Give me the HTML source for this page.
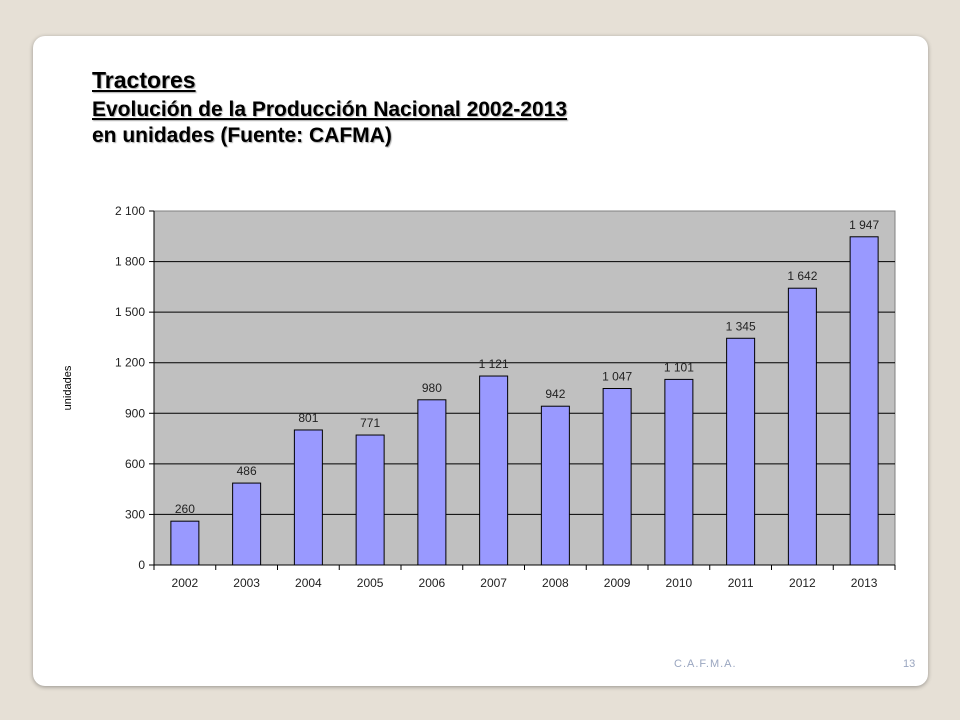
<!DOCTYPE html>
<html><head><meta charset="utf-8"><style>
body{margin:0;width:960px;height:720px;background:#e6e0d6;font-family:"Liberation Sans",sans-serif;position:relative;overflow:hidden}
.card{position:absolute;left:33px;top:36px;width:895px;height:650px;background:#fff;border-radius:12px;box-shadow:0 1px 4px rgba(0,0,0,0.35)}
.t{position:absolute;left:92px;font-weight:bold;text-shadow:1px 1px 1px #aaa;white-space:nowrap;line-height:1}
</style></head><body>
<div class="t" style="top:68px"></div>
<div class="card"></div>
<div class="t" style="top:69px;font-size:23px;text-decoration:underline">Tractores</div>
<div class="t" style="top:99px;font-size:21px;text-decoration:underline">Evolución de la Producción Nacional 2002-2013</div>
<div class="t" style="top:125px;font-size:21px">en unidades (Fuente: CAFMA)</div>
<div style="position:absolute;left:674px;top:658px;font-size:11px;color:#9aa6c0;letter-spacing:1px">C.A.F.M.A.</div>
<div style="position:absolute;left:903px;top:658px;font-size:11px;color:#9aa6c0">13</div>
<svg id="chart" width="960" height="720" style="position:absolute;left:0;top:0"></svg>
<script>
const categories=["2002","2003","2004","2005","2006","2007","2008","2009","2010","2011","2012","2013"];
const values=[260,486,801,771,980,1121,942,1047,1101,1345,1642,1947];
const labels=["260","486","801","771","980","1 121","942","1 047","1 101","1 345","1 642","1 947"];
const ticks=[0,300,600,900,1200,1500,1800,2100];
const tickLabels=["0","300","600","900","1 200","1 500","1 800","2 100"];
const L=154,R=895,T=211,B=565,MAX=2100;
const y=v=>B-(v/MAX)*(B-T);
const step=(R-L)/categories.length;
const x=i=>L+step*i+step/2;
const svg=document.getElementById('chart');
const NS='http://www.w3.org/2000/svg';
function mk(tag,a){const e=document.createElementNS(NS,tag);for(const k in a)e.setAttribute(k,a[k]);svg.appendChild(e);return e;}
let e=mk('rect',{x:L,y:T,width:R-L,height:B-T,fill:'#c0c0c0',stroke:'#808080'});


ticks.forEach((t,i)=>{
 if(t>0&&t<MAX){const g=mk('line',{x1:L,x2:R,y1:y(t),y2:y(t),stroke:'#000','stroke-width':1});
 
 }
 const tk=mk('line',{x1:L-5,x2:L,y1:y(t),y2:y(t),stroke:'#000'});
 
 
 const tx=mk('text',{x:L-9,y:y(t)+4,'text-anchor':'end','font-size':12,'font-family':'Liberation Sans',fill:'#222'});
 tx.textContent=tickLabels[i];
 
 
});
mk('line',{x1:L,x2:L,y1:T,y2:B,stroke:'#000'});
mk('line',{x1:L,x2:R,y1:B,y2:B,stroke:'#000'});
for(let i=0;i<=categories.length;i++){const tk=mk('line',{x1:L+step*i,x2:L+step*i,y1:B,y2:B+5,stroke:'#000'});
 
 }
const bw=28;
categories.forEach((c,i)=>{
 const b=mk('rect',{x:x(i)-bw/2,y:y(values[i]),width:bw,height:B-y(values[i]),fill:'#9999ff',stroke:'#000','stroke-width':1});
 
 
 const l=mk('text',{x:x(i),y:y(values[i])-8,'text-anchor':'middle','font-size':12,'font-family':'Liberation Sans',fill:'#222'});
 l.textContent=labels[i];
 
 
 const xl=mk('text',{x:x(i),y:B+22,'text-anchor':'middle','font-size':12,'font-family':'Liberation Sans',fill:'#222'});
 xl.textContent=c;
 
 
});
const yt=mk('text',{x:0,y:0,'text-anchor':'middle','font-size':11,'font-family':'Liberation Sans',transform:'translate(71,388) rotate(-90)'});
yt.textContent='unidades';


</script>
</body></html>
